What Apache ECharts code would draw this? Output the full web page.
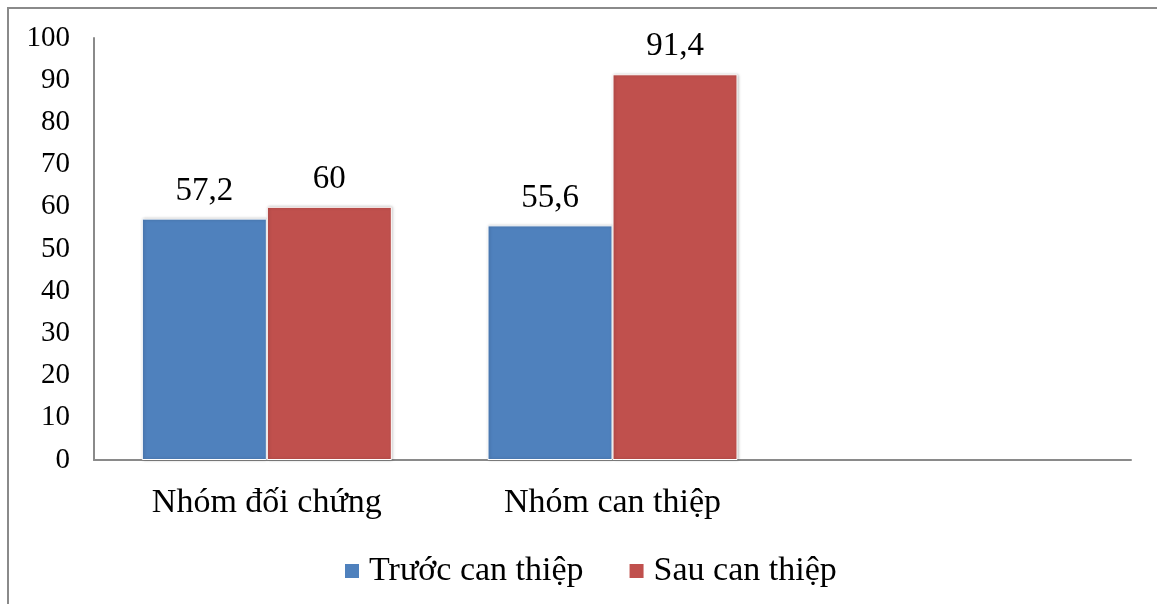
<!DOCTYPE html>
<html><head><meta charset="utf-8">
<script src="https://cdn.jsdelivr.net/npm/echarts@6/dist/echarts.min.js"></script>
<style>html,body{margin:0;padding:0;background:#fff}#c{width:1157px;height:604px}</style>
</head><body><div id="c"></div>
<script>
const categories = ['Nhóm đối chứng', 'Nhóm can thiệp', ''];
const seriesNames = ['Trước can thiệp', 'Sau can thiệp'];
const before = [57.2, 55.6, null];
const after = [60, 91.4, null];
const yTicks = [0, 100, 10];

const font = 'Liberation Serif, Times New Roman, serif';
const chart = echarts.init(document.getElementById('c'));
const fmt = p => String(p.value).replace('.', ',');
chart.setOption({
  animation: false,
  graphic: [{type: 'rect', shape: {x: 8, y: 8, width: 1300, height: 800}, style: {fill: 'none', stroke: '#8a8a8a', lineWidth: 2}, silent: true}],
  grid: {left: 94, right: 26, top: 38, bottom: 144, containLabel: false},
  legend: {
    top: 549, left: 338, itemWidth: 16, itemHeight: 16, itemGap: 44,
    icon: 'rect',
    textStyle: {fontFamily: font, fontSize: 34, color: '#000', padding: [0, 0, 0, 4]},
    data: seriesNames
  },
  xAxis: {
    type: 'category', data: categories,
    axisLine: {lineStyle: {color: '#8a8a8a', width: 2}},
    axisTick: {show: false},
    axisLabel: {fontFamily: font, fontSize: 34, color: '#000', margin: 26}
  },
  yAxis: {
    type: 'value', min: yTicks[0], max: yTicks[1], interval: yTicks[2],
    axisLine: {show: true, lineStyle: {color: '#8a8a8a', width: 2}},
    axisTick: {show: false},
    splitLine: {show: false},
    axisLabel: {fontFamily: font, fontSize: 29, color: '#000', margin: 24}
  },
  series: [
    {name: seriesNames[0], type: 'bar', data: before, barWidth: 125, barGap: '0%',
     itemStyle: {color: '#4F81BD', borderColor: '#fff', borderWidth: 1, shadowColor: 'rgba(0,0,0,0.25)', shadowBlur: 3, shadowOffsetX: 1},
     label: {show: true, position: 'top', distance: 11, formatter: fmt, fontFamily: font, fontSize: 33, color: '#000'}},
    {name: seriesNames[1], type: 'bar', data: after, barWidth: 125,
     itemStyle: {color: '#C0504D', borderColor: '#fff', borderWidth: 1, shadowColor: 'rgba(0,0,0,0.25)', shadowBlur: 3, shadowOffsetX: 1},
     label: {show: true, position: 'top', distance: 11, formatter: fmt, fontFamily: font, fontSize: 33, color: '#000'}}
  ]
});
</script></body></html>
